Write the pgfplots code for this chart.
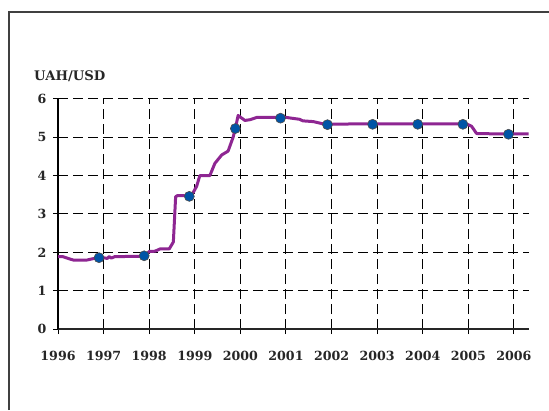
\documentclass[border=0pt]{standalone}
\usepackage{fontspec}
\setmainfont{DejaVu Serif}
\usepackage{pgfplots}
\pgfplotsset{compat=1.18}
\definecolor{linepurple}{RGB}{142,38,146}
\definecolor{dotblue}{RGB}{0,84,166}
\begin{document}
\begin{tikzpicture}[x=1pt,y=1pt]
\useasboundingbox (0,0) rectangle (549,410);
\draw[line width=1.2pt, black!75] (9,0) -- (9,398) -- (549,398);
\begin{axis}[
  at={(58pt,81pt)}, anchor=south west,
  scale only axis, width=471pt, height=230pt,
  xmin=1996, xmax=2006.33, ymin=0, ymax=6,
  axis x line=bottom, axis y line=left, axis line style={-},
  x axis line style={line width=2.8pt, black!85},
  y axis line style={line width=1.2pt, black},
  xtick={1996,1997,1998,1999,2000,2001,2002,2003,2004,2005,2006},
  xticklabels={1996,1997,1998,1999,2000,2001,2002,2003,2004,2005,2006},
  ytick={0,1,2,3,4,5,6},
  grid=major,
  major grid style={black, line width=1pt, dash pattern=on 10pt off 5pt},
  tick align=outside, major tick length=5pt,
  tick style={black, line width=1pt},
  /pgf/number format/assume math mode=true,
  ticklabel style={font=\bfseries\fontsize{12.6}{14}\selectfont, text=black!85},
  xticklabel style={yshift=-14pt},
  yticklabel style={xshift=-3pt},
  clip=false,
]
\addplot[linepurple, line width=3pt, line join=round] coordinates {
(1996.00,1.89) (1996.10,1.89) (1996.20,1.85) (1996.33,1.80) (1996.64,1.80)
(1996.75,1.83) (1996.90,1.86) (1997.00,1.86) (1997.08,1.84) (1997.12,1.89)
(1997.17,1.85) (1997.25,1.89) (1997.40,1.89) (1997.90,1.90) (1998.00,2.02)
(1998.13,2.03) (1998.24,2.09) (1998.44,2.09) (1998.53,2.27) (1998.58,3.45)
(1998.62,3.48) (1998.75,3.48) (1998.88,3.46) (1998.96,3.55) (1999.04,3.72)
(1999.11,4.00) (1999.33,4.00) (1999.44,4.32) (1999.59,4.54) (1999.73,4.64)
(1999.84,5.00) (1999.89,5.23) (1999.95,5.57) (2000.10,5.44) (2000.21,5.46)
(2000.36,5.52) (2001.00,5.52) (2001.30,5.47) (2001.37,5.43) (2001.60,5.41)
(2001.82,5.35) (2001.91,5.34) (2002.50,5.35) (2003.50,5.35) (2004.50,5.35)
(2004.96,5.35) (2005.07,5.29) (2005.18,5.10) (2005.60,5.09) (2006.32,5.09)
};
\addplot[only marks, mark=*, mark size=5pt,
  mark options={fill=dotblue, draw=black!70, line width=0.6pt}] coordinates {
(1996.90,1.86) (1997.89,1.91) (1998.88,3.46) (1999.89,5.23) (2000.88,5.50)
(2001.91,5.33) (2002.90,5.34) (2003.89,5.34) (2004.88,5.34) (2005.88,5.08)
};
\end{axis}
\node[anchor=west, font=\bfseries\fontsize{13.2}{15}\selectfont, text=black!85, inner sep=0pt] at (34,334) {UAH/USD};
\end{tikzpicture}
\end{document}
